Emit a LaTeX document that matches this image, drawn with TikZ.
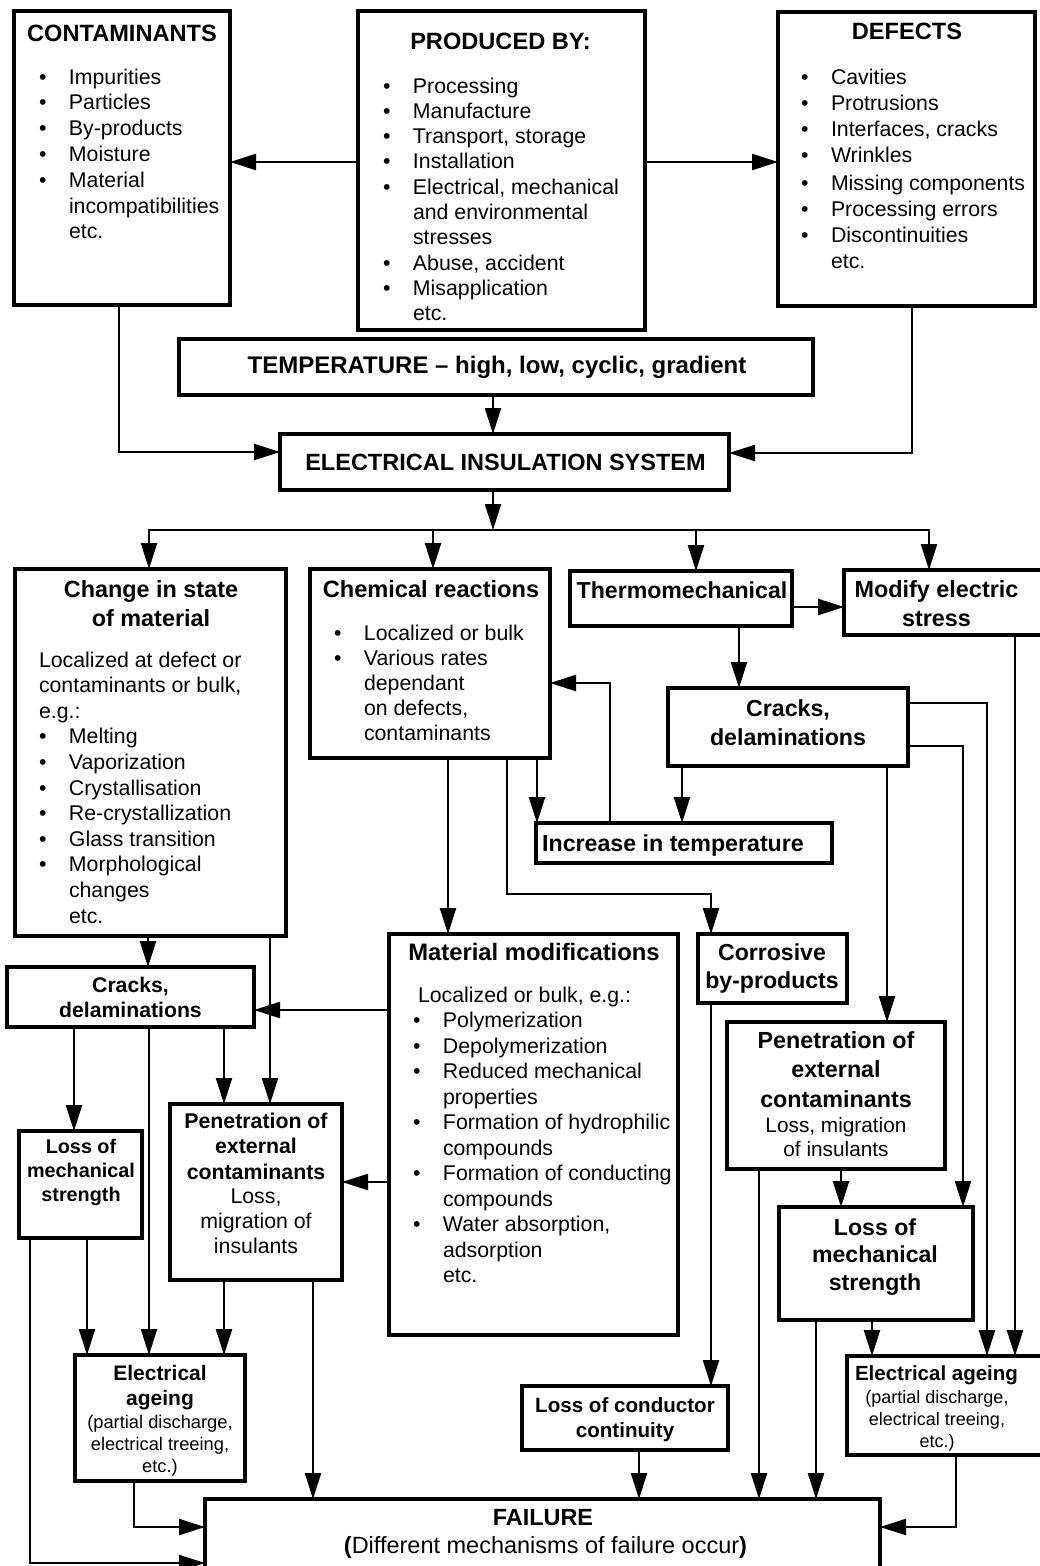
\documentclass[tikz,border=0pt]{standalone}
\usepackage{fontspec}
\setmainfont{Liberation Sans}
\usetikzlibrary{arrows.meta}
% list helpers: bullet column, centred and bulleted blocks aligned on the first baseline
\newcommand\blt{\makebox[30pt][l]{\textbullet}}
\newcommand\ctx[1]{\begin{tabular}[t]{@{}c@{}}#1\end{tabular}}
\newcommand\ltx[1]{\begin{tabular}[t]{@{}l@{}l@{}}#1\end{tabular}}
\newcommand\whole[1]{\multicolumn{2}{@{}l@{}}{#1}}
\newcommand\fsz[2]{\fontsize{#1}{#2}\selectfont}
% rectangle from its corner coordinates (left, top, right, bottom)
\newcommand\boxnode[5]{\node[bx, minimum width={#4-#2}, minimum height={#5-#3}] (#1) at ({(#2+#4)/2},{(#3+#5)/2}) {};}
\begin{document}
\begin{tikzpicture}[x=1pt,y=-1pt,
  bx/.style={draw, rectangle, line width=4.5pt, inner sep=0pt, outer sep=0pt},
  con/.style={line width=2.4pt},
  arr/.style={con, -{Triangle[length=26pt,width=16pt]}},
  lbl/.style={inner sep=0pt, outer sep=0pt, anchor=base},
  lst/.style={inner sep=0pt, outer sep=0pt, anchor=base west}]
\useasboundingbox (0,0) rectangle (1039,1566);
\fill[white] (0,0) rectangle (1039,1566);

% ---------- boxes ----------
\boxnode{contam}{14}{11}{230}{305}
\boxnode{prod}{358}{11}{645}{330}
\boxnode{defect}{778}{12}{1035}{306}
\boxnode{temp}{179}{339}{813}{395}
\boxnode{eis}{280}{434}{729}{490}
\boxnode{change}{15}{569}{286}{936}
\boxnode{chem}{310}{569}{550}{758}
\boxnode{thermo}{570}{571}{792}{626}
\boxnode{modify}{844}{570}{1042}{635}
\boxnode{crackR}{668}{688}{908}{766}
\boxnode{incr}{536}{823}{832}{863}
\boxnode{matmod}{389}{934}{678}{1335}
\boxnode{corr}{698}{934}{847}{1003}
\boxnode{penR}{727}{1022}{945}{1169}
\boxnode{lossR}{779}{1207}{973}{1320}
\boxnode{ageR}{847}{1356}{1042}{1455}
\boxnode{cond}{522}{1386}{728}{1450}
\boxnode{fail}{205}{1499}{880}{1590}
\boxnode{crackL}{7}{967}{254}{1027}
\boxnode{lossL}{19}{1131}{142}{1238}
\boxnode{penL}{170}{1104}{342}{1280}
\boxnode{ageL}{75}{1355}{245}{1481}

% ---------- texts ----------
\node[lbl, font=\fsz{23.6}{29}\bfseries] (tContam) at (122,41) {CONTAMINANTS};
\node[lst, font=\fsz{21.3}{25.8}] (lContam) at (39,84) {\ltx{\blt & Impurities\\ \blt & Particles\\ \blt & By-products\\ \blt & Moisture\\ \blt & Material\\ & incompatibilities\\ & etc.}};

\node[lbl, font=\fsz{23.6}{29}\bfseries] (tProd) at (500.5,49) {PRODUCED BY:};
\node[lst, font=\fsz{21.3}{25.3}] (lProd) at (383,93) {\ltx{\blt & Processing\\ \blt & Manufacture\\ \blt & Transport, storage\\ \blt & Installation\\ \blt & Electrical, mechanical\\ & and environmental\\ & stresses\\ \blt & Abuse, accident\\ \blt & Misapplication\\ & etc.}};

\node[lbl, font=\fsz{23.6}{29}\bfseries] (tDefect) at (907,39) {DEFECTS};
\node[lst, font=\fsz{21.3}{26}] (lDefect) at (801,84) {\ltx{\blt & Cavities\\ \blt & Protrusions\\ \blt & Interfaces, cracks\\ \blt & Wrinkles\\[2pt] \blt & Missing components\\ \blt & Processing errors\\ \blt & Discontinuities\\ & etc.}};

\node[lbl, font=\fsz{24}{29}\bfseries] (tTemp) at (497,373) {TEMPERATURE \textendash\ high, low, cyclic, gradient};
\node[lbl, font=\fsz{23.5}{29}\bfseries] (tEis) at (505.5,470.5) {ELECTRICAL INSULATION SYSTEM};

\node[lbl, font=\fsz{23.4}{29}\bfseries] (tChange) at (151,597) {\ctx{Change in state\\of material}};
\node[lst, font=\fsz{21.3}{25.6}] (lChange) at (39,667) {\ltx{\whole{Localized at defect or}\\ \whole{contaminants or bulk,}\\ \whole{e.g.:}\\ \blt & Melting\\ \blt & Vaporization\\ \blt & Crystallisation\\ \blt & Re-crystallization\\ \blt & Glass transition\\ \blt & Morphological\\ & changes\\ & etc.}};

\node[lbl, font=\fsz{23.6}{29}\bfseries] (tChem) at (431,597) {Chemical reactions};
\node[lst, font=\fsz{21.3}{25}] (lChem) at (334,640) {\ltx{\blt & Localized or bulk\\ \blt & Various rates\\ & dependant\\ & on defects,\\ & contaminants}};

\node[lbl, font=\fsz{23.1}{29}\bfseries] (tThermo) at (682,598) {Thermomechanical};
\node[lbl, font=\fsz{23.4}{29}\bfseries] (tModify) at (936.5,597) {\ctx{Modify electric\\stress}};
\node[lbl, font=\fsz{23.2}{29}\bfseries] (tCrackR) at (788,716) {\ctx{Cracks,\\delaminations}};
\node[lbl, font=\fsz{23.2}{29}\bfseries] (tIncr) at (673,851) {Increase in temperature};

\node[lbl, font=\fsz{23.8}{29}\bfseries] (tMat) at (534,960) {Material modifications};
\node[lst, font=\fsz{21.3}{25.5}] (lMat) at (413,1002) {\ltx{\whole{\hspace{5pt}Localized or bulk, e.g.:}\\ \blt & Polymerization\\ \blt & Depolymerization\\ \blt & Reduced mechanical\\ & properties\\ \blt & Formation of hydrophilic\\ & compounds\\ \blt & Formation of conducting\\ & compounds\\ \blt & Water absorption,\\ & adsorption\\ & etc.}};

\node[lbl, font=\fsz{23.1}{28}\bfseries] (tCorr) at (772,960) {\ctx{Corrosive\\by-products}};
\node[lbl, font=\fsz{23.3}{29.5}\bfseries] (tPenR) at (836,1048) {\ctx{Penetration of\\external\\contaminants}};
\node[lbl, font=\fsz{20.8}{24.5}] (sPenR) at (836,1132) {\ctx{Loss, migration\\of insulants}};
\node[lbl, font=\fsz{23.1}{27.5}\bfseries] (tLossR) at (875,1235) {\ctx{Loss of\\mechanical\\strength}};
\node[lbl, font=\fsz{20.5}{25}\bfseries] (tAgeR) at (936.5,1380) {Electrical ageing};
\node[lbl, font=\fsz{18}{22}] (sAgeR) at (937,1403) {\ctx{(partial discharge,\\electrical treeing,\\etc.)}};
\node[lbl, font=\fsz{20.6}{25}\bfseries] (tCond) at (625,1412) {\ctx{Loss of conductor\\continuity}};

\node[lbl, font=\fsz{23.4}{29}\bfseries] (tFail) at (543,1525) {FAILURE};
\node[lbl, font=\fsz{23.5}{29}] (sFail) at (545.5,1553) {\textbf{(}Different mechanisms of failure occur\textbf{)}};

\node[lbl, font=\fsz{21.2}{25}\bfseries] (tCrackL) at (130.5,992) {\ctx{Cracks,\\delaminations}};
\node[lbl, font=\fsz{19.8}{24}\bfseries] (tLossL) at (81,1153) {\ctx{Loss of\\mechanical\\strength}};
\node[lbl, font=\fsz{21.3}{25.5}\bfseries] (tPenL) at (256,1128) {\ctx{Penetration of\\external\\contaminants}};
\node[lbl, font=\fsz{21.3}{25}] (sPenL) at (256,1203) {\ctx{Loss,\\migration of\\insulants}};
\node[lbl, font=\fsz{21}{25}\bfseries] (tAgeL) at (160,1380) {\ctx{Electrical\\ageing}};
\node[lbl, font=\fsz{18.3}{22}] (sAgeL) at (160,1428) {\ctx{(partial discharge,\\electrical treeing,\\etc.)}};

% ---------- connectors ----------
\draw[arr] (prod.west |- 0,162) -- (contam.east |- 0,162);
\draw[arr] (prod.east |- 0,162) -- (defect.west |- 0,162);
\draw[arr] (contam.south -| 119,0) |- (eis.west |- 0,452);
\draw[arr] (defect.south -| 912,0) |- (eis.east |- 0,453);
\draw[arr] (temp.south -| 493,0) -- (eis.north -| 493,0);

\coordinate (hub) at (493,530);
\draw[arr] (eis.south -| hub) -- (hub);
\draw[arr] (hub) -| (change.north -| 149,0);
\draw[arr] (hub) -| (modify.north -| 929,0);
\draw[arr] (hub -| 433,0) -- (chem.north -| 433,0);
\draw[arr] (hub -| 696,0) -- (thermo.north -| 696,0);

\draw[arr] (thermo.east |- 0,607) -- (modify.west |- 0,607);
\draw[arr] (thermo.south -| 739,0) -- (crackR.north -| 739,0);
\draw[arr] (chem.south -| 537,0) -- (incr.north -| 537,0);
\draw[arr] (crackR.south -| 682,0) -- (incr.north -| 682,0);
\draw[arr] (incr.north -| 610,0) |- (chem.east |- 0,683);
\coordinate (kCorr) at (711,894);
\draw[arr] (chem.south -| 507,0) |- (kCorr) -- (corr.north -| kCorr);
\draw[arr] (chem.south -| 448,0) -- (matmod.north -| 448,0);

\draw[arr] (crackR.south -| 887,0) -- (penR.north -| 887,0);
\draw[arr] (penR.south -| 841,0) -- (lossR.north -| 841,0);
\draw[arr] (crackR.east |- 0,703) -| (ageR.north -| 987,0);
\draw[arr] (crackR.east |- 0,746) -| (lossR.north -| 963,0);
\draw[arr] (modify.south -| 1015,0) -- (ageR.north -| 1015,0);
\draw[arr] (lossR.south -| 872,0) -- (ageR.north -| 872,0);
\draw[arr] (lossR.south -| 816,0) -- (fail.north -| 816,0);
\draw[arr] (ageR.south -| 956,0) |- (fail.east |- 0,1527);
\draw[arr] (penR.south -| 759,0) -- (fail.north -| 759,0);
\draw[arr] (corr.south -| 711,0) -- (cond.north -| 711,0);
\draw[arr] (cond.south -| 639,0) -- (fail.north -| 639,0);

\draw[arr] (change.south -| 148,0) -- (crackL.north -| 148,0);
\draw[arr] (change.south -| 270,0) -- (penL.north -| 270,0);
\draw[arr] (matmod.west |- 0,1010) -- (crackL.east |- 0,1010);
\draw[arr] (matmod.west |- 0,1182) -- (penL.east |- 0,1182);
\draw[arr] (crackL.south -| 74,0) -- (lossL.north -| 74,0);
\draw[arr] (crackL.south -| 149,0) -- (ageL.north -| 149,0);
\draw[arr] (crackL.south -| 224,0) -- (penL.north -| 224,0);
\draw[arr] (lossL.south -| 87,0) -- (ageL.north -| 87,0);
\draw[arr] (lossL.south -| 30,0) |- (fail.west |- 0,1563);
\draw[arr] (penL.south -| 224,0) -- (ageL.north -| 224,0);
\draw[arr] (penL.south -| 313,0) -- (fail.north -| 313,0);
\draw[arr] (ageL.south -| 134,0) |- (fail.west |- 0,1527);
\end{tikzpicture}
\end{document}
